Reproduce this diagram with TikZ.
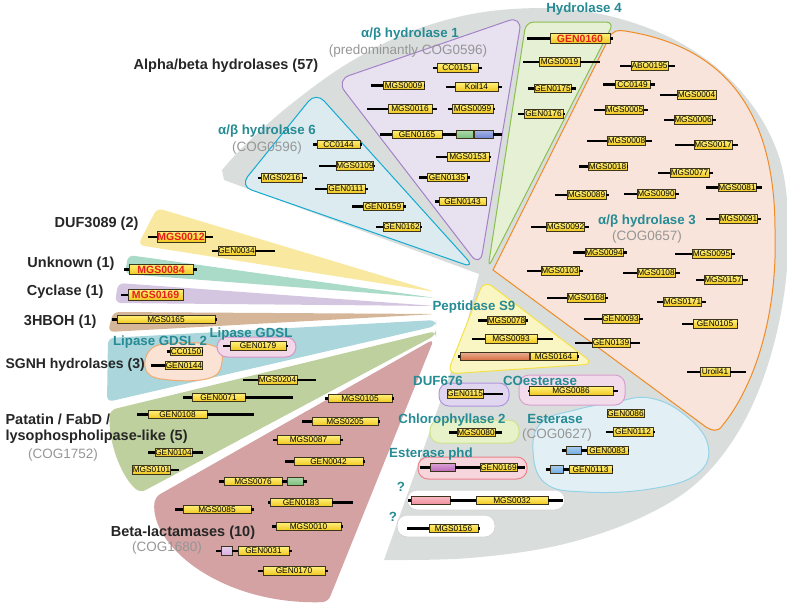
\documentclass[tikz,border=0pt]{standalone}
\usepackage{fontspec}
\setmainfont{Liberation Sans}

\definecolor{graybg}{RGB}{217,222,220}
\definecolor{orangebg}{RGB}{248,228,218}
\definecolor{orangeline}{RGB}{240,140,40}
\definecolor{greenbg}{RGB}{229,240,212}
\definecolor{greenline}{RGB}{140,190,80}
\definecolor{purplebg}{RGB}{231,225,240}
\definecolor{purpleline}{RGB}{165,130,200}
\definecolor{cyanbg}{RGB}{220,235,240}
\definecolor{cyanline}{RGB}{20,170,210}
\definecolor{pepbg}{RGB}{250,246,195}
\definecolor{pepline}{RGB}{245,225,70}
\definecolor{fanyellow}{RGB}{249,233,160}
\definecolor{fanmint}{RGB}{170,218,200}
\definecolor{fanlilac}{RGB}{212,198,225}
\definecolor{fanbrown}{RGB}{214,182,152}
\definecolor{fanteal}{RGB}{170,214,220}
\definecolor{fangreen}{RGB}{190,208,158}
\definecolor{fanred}{RGB}{212,162,162}
\definecolor{gdsltwobg}{RGB}{250,226,212}
\definecolor{gdsltwoline}{RGB}{242,170,110}
\definecolor{gdslbg}{RGB}{242,215,232}
\definecolor{gdslline}{RGB}{215,150,200}
\definecolor{dufbg}{RGB}{224,214,240}
\definecolor{dufline}{RGB}{175,150,220}
\definecolor{coestbg}{RGB}{242,220,236}
\definecolor{coestline}{RGB}{215,160,205}
\definecolor{chlbg}{RGB}{232,242,200}
\definecolor{chlline}{RGB}{205,228,140}
\definecolor{estbg}{RGB}{226,240,246}
\definecolor{estline}{RGB}{150,210,230}
\definecolor{phdbg}{RGB}{246,214,220}
\definecolor{phdline}{RGB}{236,130,140}
\definecolor{qline}{RGB}{215,215,215}
\definecolor{genetop}{RGB}{255,240,120}
\definecolor{genebot}{RGB}{240,198,30}
\definecolor{geneedge}{RGB}{60,52,28}
\definecolor{genered}{RGB}{230,30,30}
\definecolor{cladeteal}{RGB}{38,139,148}
\definecolor{coggray}{RGB}{150,150,150}
\definecolor{domgreen}{RGB}{120,190,120}
\definecolor{domblue}{RGB}{110,130,210}
\definecolor{domlblue}{RGB}{110,170,225}
\definecolor{domorange}{RGB}{215,105,60}
\definecolor{dompink}{RGB}{240,140,155}
\definecolor{dompurple}{RGB}{190,100,185}
\definecolor{domlilac}{RGB}{215,175,225}

% gene: [style] name, label, x, y, width, left line, right line
\newcommand{\gene}[8][genebox]{%
  \node[#1, minimum width=#6pt] (#2) at (#4,#5) {#3};
  \draw[geneline] (#2.west) -- ++(-#7,0);
  \draw[geneline] (#2.east) -- ++(#8,0);}

\begin{document}
\begin{tikzpicture}[x=1pt,y=-1pt,
  genebox/.style={draw=geneedge, line width=0.8pt, top color=genetop, bottom color=genebot,
    minimum height=8.5pt, inner sep=0pt, font=\fontsize{8.3}{9}\selectfont},
  redgene/.style={genebox, minimum height=10.5pt, text=genered, font=\fontsize{10.5}{11}\selectfont\bfseries},
  geneline/.style={line width=2.3pt, black},
  domainbox/.style={draw=geneedge, line width=0.8pt, minimum height=8.5pt, inner sep=0pt},
  title/.style={font=\fontsize{14.5}{16}\selectfont\bfseries, text=black!85},
  clade/.style={font=\fontsize{13.3}{15}\selectfont\bfseries, text=cladeteal},
  cog/.style={font=\fontsize{13.5}{15}\selectfont, text=coggray},
  fan/.style={rounded corners=6pt},
  blob/.style={line width=1pt, rounded corners=10pt}]
\useasboundingbox (0,0) rectangle (787,606);
\clip (0,0) rectangle (787,606);

% big grey group
\fill[graybg] plot[smooth, tension=0.6] coordinates {(384,560) (470,558) (560,545) (640,518) (700,480)
  (745,420) (775,340) (788,250) (780,160) (740,90) (675,40) (590,12) (500,10) (420,28) (350,62)
  (290,105) (245,145) (222,170)} -- (224,180) -- (479,274) -- (464,335) -- cycle;

% left fans
\fill[fanyellow, fan] (436,292) -- (157,208) -- (138,245) -- cycle;
\fill[fanmint, fan] (436,298) -- (128,255) -- (125,274) -- cycle;
\fill[fanlilac, fan] (436,306) -- (118,283) -- (115,303) -- cycle;
\fill[fanbrown, fan] (436,314) -- (113,312) -- (108,332) -- cycle;
\fill[fanteal, fan] (436,320) -- (108,338) -- (107,402) -- (436,326) -- cycle;
\fill[fangreen, fan] (436,331) -- (110,410) .. controls (108,440) and (120,475) .. (140,493) -- (436,335) -- cycle;
\fill[fanred, fan] (434,339) -- (155,497) .. controls (150,545) and (220,605) .. (328,602) -- cycle;

% alpha/beta sub-groups
\draw[cyanline, fill=cyanbg, line width=1pt, rounded corners=12pt] (475,268) -- (240,186) -- (316,92) -- cycle;
\draw[purpleline, fill=purplebg, line width=1pt, rounded corners=14pt] (480,267) -- (336,80) -- (522,16) -- cycle;
\draw[greenline, fill=greenbg, line width=1pt, rounded corners=8pt] (488,268) -- (526,22) -- (614,22) -- cycle;
\draw[orangeline, fill=orangebg, line width=1pt] (493,270) -- (609,38) .. controls (613,30) and (618,30) .. (625,31)
  .. controls (715,45) and (775,100) .. (775,230) .. controls (778,320) and (752,390) .. (722,426)
  .. controls (718,432) and (712,431) .. (706,427) -- cycle;

% lower sub-groups
\draw[pepline, fill=pepbg, line width=1pt, rounded corners=10pt] (484,280) -- (594,364) -- (447,374) -- cycle;
\draw[estline, fill=estbg, line width=1pt] plot[smooth cycle, tension=0.7] coordinates {(533,450) (542,422)
  (575,410) (615,402) (650,398) (685,415) (708,445) (697,474) (650,489) (585,492) (545,483)};
\draw[dufline, fill=dufbg, blob] (439,383) rectangle (509,406);
\draw[coestline, fill=coestbg, blob] (519,375) rectangle (625,405);
\draw[chlline, fill=chlbg, blob] (430,420) rectangle (519,443);
\draw[phdline, fill=phdbg, blob] (418,457) rectangle (527,479);
\draw[qline, fill=white, blob] (407,490) rectangle (565,510);
\draw[qline, fill=white, blob] (397,515) rectangle (495,537);
\draw[gdsltwoline, fill=gdsltwobg, line width=1pt] plot[smooth cycle, tension=0.7] coordinates {(150,350)
  (175,343) (214,346) (222,362) (210,378) (170,380) (147,372)};
\draw[gdslline, fill=gdslbg, blob] (217,337) rectangle (296,357);

% alpha/beta hydrolase 1
\gene{CC0151}{CC0151}{457.5}{68}{41}{4}{4}
\gene{MGS0009}{MGS0009}{403.5}{85.5}{41}{12}{1}
\gene{Koil14}{Koil14}{476.5}{87}{43}{9}{4}
\gene{MGS0016}{MGS0016}{410}{109}{44}{21}{5}
\gene{MGS0099}{MGS0099}{472.5}{109}{41}{4}{2}
\gene{GEN0165}{GEN0165}{417}{134.5}{50}{12}{0}
\node[domainbox, minimum width=17pt, top color=domgreen!60, bottom color=domgreen] (GEN0165g) at (464.5,134.5) {};
\node[domainbox, minimum width=19pt, top color=domblue!60, bottom color=domblue] (GEN0165b) at (483.5,134.5) {};
\draw[geneline] (GEN0165.east) -- (GEN0165g.west);
\draw[geneline] (GEN0165b.east) -- ++(9,0);
\gene{MGS0153}{MGS0153}{468}{157}{42}{11}{2}
\gene{GEN0135}{GEN0135}{447}{177.5}{40}{8}{3}
\gene{GEN0143}{GEN0143}{462.5}{201.5}{47}{4}{0}

% alpha/beta hydrolase 6
\gene{CC0144}{CC0144}{338.5}{144.5}{43}{4}{2}
\gene{MGS0109}{MGS0109}{355}{166}{36}{17}{1}
\gene{MGS0216}{MGS0216}{281.5}{178}{41}{3}{5}
\gene{GEN0111}{GEN0111}{346}{189}{38}{12}{3}
\gene{GEN0159}{GEN0159}{383}{206.5}{40}{11}{3}
\gene{GEN0162}{GEN0162}{401.5}{227}{37}{7}{2}

% hydrolase 4
\gene[redgene]{GEN0160}{GEN0160}{580}{38.5}{60}{23}{3}
\gene{MGS0019}{MGS0019}{559.5}{62}{41}{16}{20}
\gene{GEN0175}{GEN0175}{552.5}{88.5}{37}{6}{5}
\gene{GEN0176}{GEN0176}{543.5}{114}{39}{6}{2}

% alpha/beta hydrolase 3
\gene{ABO0195}{ABO0195}{649.5}{66}{37}{11}{7}
\gene{CC0149}{CC0149}{632.5}{84.5}{35}{12}{5}
\gene{MGS0004}{MGS0004}{696.5}{95}{39}{17}{0}
\gene{MGS0005}{MGS0005}{624.5}{110}{37}{11}{4}
\gene{MGS0006}{MGS0006}{693}{120}{38}{10}{4}
\gene{MGS0008}{MGS0008}{626.5}{141}{37}{20}{6}
\gene{MGS0017}{MGS0017}{713}{145}{38}{19}{6}
\gene{MGS0018}{MGS0018}{607.5}{166.5}{39}{9}{1}
\gene{MGS0077}{MGS0077}{689.5}{173}{39}{12}{4}
\gene{MGS0081}{MGS0081}{737}{187.5}{38}{12}{6}
\gene{MGS0089}{MGS0089}{586.5}{195}{39}{12}{3}
\gene{MGS0090}{MGS0090}{656}{194}{38}{13}{4}
\gene{MGS0092}{MGS0092}{565.5}{227}{37}{15}{4}
\gene{MGS0091}{MGS0091}{738.5}{219}{37}{13}{3}
\gene{MGS0094}{MGS0094}{604}{252.5}{38}{12}{4}
\gene{MGS0095}{MGS0095}{711.5}{254}{39}{17}{4}
\gene{MGS0103}{MGS0103}{560}{271}{38}{14}{4}
\gene{MGS0108}{MGS0108}{656}{273}{38}{14}{5}
\gene{MGS0157}{MGS0157}{723}{280}{38}{8}{6}
\gene{MGS0168}{MGS0168}{586}{298}{38}{20}{3}
\gene{MGS0171}{MGS0171}{682.5}{302}{37}{6}{4}
\gene{GEN0093}{GEN0093}{620.5}{319}{37}{18}{4}
\gene{GEN0105}{GEN0105}{715}{324}{44}{11}{1}
\gene{GEN0139}{GEN0139}{611}{343}{38}{17}{10}
\gene{Uroil41}{Uroil41}{715}{372}{30}{13}{16}

% small families on the left
\gene[redgene]{MGS0012}{MGS0012}{181}{237}{48}{9}{8}
\gene{GEN0034}{GEN0034}{236.5}{251}{37}{6}{20}
\gene[redgene]{MGS0084}{MGS0084}{161}{269.5}{64}{5}{4}
\gene[redgene]{MGS0169}{MGS0169}{155.5}{295}{55}{7}{0}
\gene{MGS0165}{MGS0165}{166}{319.5}{98}{5}{2}
\gene{CC0150}{CC0150}{186}{351.5}{32}{3}{1}
\gene{GEN0144}{GEN0144}{184}{365.5}{36}{14}{0}
\gene{GEN0179}{GEN0179}{258}{346}{56}{7}{2}
\gene{MGS0204}{MGS0204}{277.5}{380}{39}{15}{19}
\gene{GEN0071}{GEN0071}{218.5}{397.5}{53}{9}{48}
\gene{GEN0108}{GEN0108}{177.5}{414.5}{59}{11}{47}
\gene{GEN0104}{GEN0104}{173.5}{452.5}{37}{7}{11}
\gene{MGS0101}{MGS0101}{151.5}{470}{37}{0}{8}

% beta-lactamases
\gene{MGS0105}{MGS0105}{360}{398.5}{64}{3}{2}
\gene{MGS0205}{MGS0205}{345}{421.5}{66}{10}{2}
\gene{MGS0087}{MGS0087}{308.5}{440}{63}{4}{3}
\gene{GEN0042}{GEN0042}{328.5}{461.5}{69}{9}{2}
\gene{MGS0076}{MGS0076}{253}{481.5}{58}{5}{0}
\node[domainbox, minimum width=16pt, top color=domgreen!60, bottom color=domgreen] (MGS0076g) at (295,481.5) {};
\draw[geneline] (MGS0076.east) -- (MGS0076g.west);
\draw[geneline] (MGS0076g.east) -- ++(4,0);
\gene{GEN0183}{GEN0183}{301}{502.5}{62}{2}{21}
\gene{MGS0085}{MGS0085}{217}{509.5}{68}{8}{3}
\gene{MGS0010}{MGS0010}{308.5}{526.5}{65}{4}{2}
\gene{GEN0031}{GEN0031}{263.5}{551}{51}{0}{3}
\node[domainbox, minimum width=11pt, top color=domlilac!60, bottom color=domlilac] (GEN0031p) at (226.5,551) {};
\draw[geneline] (GEN0031p.east) -- (GEN0031.west);
\draw[geneline] (GEN0031p.west) -- ++(-5,0);
\gene{GEN0170}{GEN0170}{294}{571}{62}{5}{3}

% peptidase S9 and the rest
\gene{MGS0078}{MGS0078}{506.5}{320.5}{37}{9}{2}
\gene{MGS0093}{MGS0093}{511}{339}{52}{13}{16}
\gene{MGS0164}{MGS0164}{553.5}{356.5}{47}{0}{2}
\node[domainbox, minimum width=69pt, top color=domorange!55, bottom color=domorange] (MGS0164o) at (494.5,356.5) {};
\draw[geneline] (MGS0164o.west) -- ++(-2,0);
\gene{GEN0115}{GEN0115}{465}{394}{36}{0}{20}
\gene{MGS0086}{MGS0086}{571}{391}{84}{1}{5}
\gene{MGS0080}{MGS0080}{476}{432.5}{38}{8}{7}
\gene{GEN0086}{GEN0086}{625.5}{413.5}{37}{0}{0}
\gene{GEN0112}{GEN0112}{633}{432}{40}{7}{2}
\gene{GEN0083}{GEN0083}{607.5}{450.5}{41}{0}{1}
\node[domainbox, minimum width=15pt, top color=domlblue!60, bottom color=domlblue] (GEN0083b) at (573.5,450.5) {};
\draw[geneline] (GEN0083b.east) -- (GEN0083.west);
\draw[geneline] (GEN0083b.west) -- ++(-4,0);
\gene{GEN0113}{GEN0113}{590.5}{469.5}{43}{0}{1}
\node[domainbox, minimum width=13pt, top color=domlblue!60, bottom color=domlblue] (GEN0113b) at (556.5,469.5) {};
\draw[geneline] (GEN0113b.east) -- (GEN0113.west);
\draw[geneline] (GEN0113b.west) -- ++(-4,0);
\gene{GEN0169}{GEN0169}{498.5}{467.5}{37}{0}{8}
\node[domainbox, minimum width=25pt, top color=dompurple!60, bottom color=dompurple] (GEN0169p) at (442.5,467.5) {};
\draw[geneline] (GEN0169p.east) -- (GEN0169.west);
\draw[geneline] (GEN0169p.west) -- ++(-10,0);
\gene{MGS0032}{MGS0032}{512}{500.5}{72}{0}{15}
\node[domainbox, minimum width=39pt, top color=dompink!60, bottom color=dompink] (MGS0032p) at (430.5,500.5) {};
\draw[geneline] (MGS0032p.east) -- (MGS0032.west);
\draw[geneline] (MGS0032p.west) -- ++(-3,0);
\gene{MGS0156}{MGS0156}{453.5}{528.5}{49}{22}{2}

% labels
\node[title, anchor=base] (tAlpha) at (226,69) {Alpha/beta hydrolases (57)};
\node[clade, anchor=base] (tAB1) at (410,37) {α/β hydrolase 1};
\node[cog, anchor=base] (cAB1) at (408,54) {(predominantly COG0596)};
\node[clade, anchor=base] (tH4) at (584,12.5) {Hydrolase 4};
\node[clade, anchor=base] (tAB6) at (267,134) {α/β hydrolase 6};
\node[cog, anchor=base] (cAB6) at (267,151) {(COG0596)};
\node[clade, anchor=base] (tAB3) at (647,224) {α/β hydrolase 3};
\node[cog, anchor=base] (cAB3) at (647,240) {(COG0657)};
\node[title, anchor=base east] (tDUF) at (142,227) {DUF3089 (2)};
\node[title, anchor=base east] (tUnk) at (118,267) {Unknown (1)};
\node[title, anchor=base east] (tCyc) at (107,295) {Cyclase (1)};
\node[title, anchor=base east] (tHB) at (100,325) {3HBOH (1)};
\node[clade, anchor=base] (tGDSL2) at (160,345) {Lipase GDSL 2};
\node[clade, anchor=base] (tGDSL) at (251,337) {Lipase GDSL};
\node[title, anchor=base west, font=\fontsize{14}{16}\selectfont\bfseries] (tSGNH) at (2,368) {SGNH hydrolases (3)};
\node[title, anchor=base west] (tPat) at (2,424) {Patatin / FabD /};
\node[title, anchor=base west] (tLyso) at (2,440) {lysophospholipase-like (5)};
\node[cog, anchor=base] (cPat) at (63,458) {(COG1752)};
\node[title, anchor=base] (tBeta) at (183,536) {Beta-lactamases (10)};
\node[cog, anchor=base] (cBeta) at (167,551) {(COG1680)};
\node[clade, anchor=base] (tPep) at (474,310) {Peptidase S9};
\node[clade, anchor=base] (tD676) at (438,385) {DUF676};
\node[clade, anchor=base] (tCOe) at (540,385) {COesterase};
\node[clade, anchor=base] (tChl) at (452,423) {Chlorophyllase 2};
\node[clade, anchor=base] (tEst) at (555,423) {Esterase};
\node[cog, anchor=base] (cEst) at (557,438) {(COG0627)};
\node[clade, anchor=base] (tPhd) at (431,457) {Esterase phd};
\node[clade, anchor=base] (tQ1) at (401,491) {?};
\node[clade, anchor=base] (tQ2) at (393,521) {?};
\end{tikzpicture}
\end{document}
